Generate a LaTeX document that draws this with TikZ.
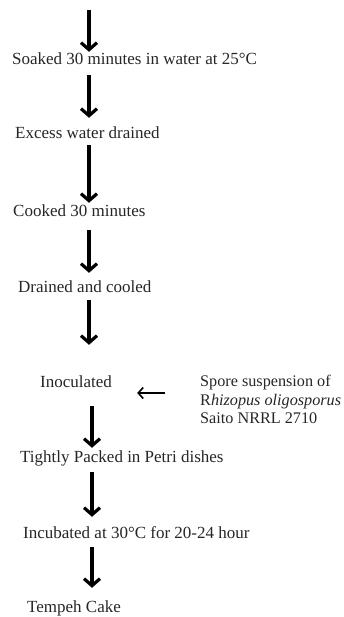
\documentclass[tikz,border=0pt]{standalone}
\usepackage{fontspec}
\setmainfont{Liberation Serif}
\usetikzlibrary{arrows.meta}
\begin{document}
\begin{tikzpicture}[x=1pt,y=1pt,
  stage/.style={anchor=base west,inner sep=0pt,text height=12pt,text depth=4pt,
    font=\fontsize{17}{18.5}\selectfont,text=black!85},
  flow/.style={line width=3.2pt,-{Straight Barb[length=7pt,width=16pt]}},
  feed/.style={line width=1.6pt,-{Straight Barb[length=5pt,width=11pt]}}]
\useasboundingbox (0,0) rectangle (344,-617);
% process stages, placed by their baselines
\node[stage] (soak)   at (12,-65)  {Soaked 30 minutes in water at 25°C};
\node[stage] (excess) at (15,-139) {Excess water drained};
\node[stage] (cook)   at (13,-217) {Cooked 30 minutes};
\node[stage] (cool)   at (18,-292) {Drained and cooled};
\node[stage] (inoc)   at (40,-387) {Inoculated};
\node[stage] (pack)   at (20,-462) {Tightly Packed in Petri dishes};
\node[stage] (incub)  at (23,-538) {Incubated at 30°C for 20-24 hour};
\node[stage] (cake)   at (27,-612) {Tempeh Cake};
% inoculum
\node[anchor=north west,inner sep=0pt,align=left,text=black!85,
  font=\fontsize{16.2}{18.5}\selectfont] (spore) at (200,-375)
  {Spore suspension of\\R\textit{hizopus oligosporus}\\Saito NRRL 2710};
% flow column
\coordinate (start) at (89,-10);
\coordinate (colA) at (89,0);
\coordinate (colB) at (92,0);
\draw[flow] (start) -- ([yshift=1pt]soak.north -| colA);
\draw[flow] ([yshift=-6pt]soak.south -| colA) -- ([yshift=9pt]excess.north -| colA);
\draw[flow] ([yshift=-2pt]excess.south -| colA) -- ([yshift=2pt]cook.north -| colA);
\draw[flow] ([yshift=-9pt]cook.south -| colA) -- ([yshift=7pt]cool.north -| colA);
\draw[flow] ([yshift=-4pt]cool.south -| colA) -- ([yshift=30pt]inoc.north -| colA);
\draw[flow] ([yshift=-15pt]inoc.south -| colB) -- ([yshift=2pt]pack.north -| colB);
\draw[flow] ([yshift=-6pt]pack.south -| colB) -- ([yshift=9pt]incub.north -| colB);
\draw[flow] ([yshift=-5pt]incub.south -| colB) -- ([yshift=12pt]cake.north -| colB);
% spores added to the inoculation step
\draw[feed] ([yshift=-10pt,xshift=-35pt]inoc.east -| spore.west) -- ([yshift=-10pt,xshift=25pt]inoc.east);
\end{tikzpicture}
\end{document}
